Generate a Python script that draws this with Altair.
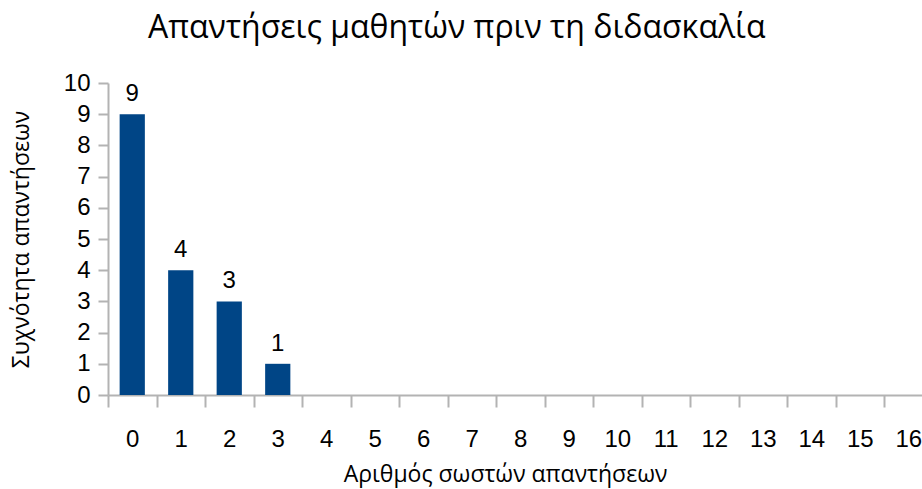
import altair as alt
import pandas as pd

# Number of correct answers (0..16) and how many students gave each
correct_answers = list(range(17))
frequency = [9, 4, 3, 1] + [None] * 13

df = pd.DataFrame({"answers": correct_answers, "freq": frequency})

BLUE = "#004586"
GREY = "#b3b3b3"
NUM_FONT = "Liberation Sans"
TXT_FONT = "Open Sans"

x_enc = alt.X(
    "answers:O",
    sort=correct_answers,
    title="Αριθμός σωστών απαντήσεων",
    scale=alt.Scale(range=[0, 824.5], paddingInner=0, paddingOuter=0),
    axis=alt.Axis(
        labelAngle=0,
        tickBand="extent",
        tickSize=12,
        tickColor=GREY,
        tickWidth=2,
        domainColor=GREY,
        domainWidth=2,
        labelFont=NUM_FONT,
        labelFontSize=24,
        labelColor="black",
        labelPadding=20,
        titleFont=TXT_FONT,
        titleFontSize=23,
        titleFontWeight="normal",
        titleColor="black",
        titlePadding=12,
        titleX=397,
    ),
)

y_enc = alt.Y(
    "freq:Q",
    title="Συχνότητα απαντήσεων",
    scale=alt.Scale(domain=[0, 10], nice=False),
    axis=alt.Axis(
        values=list(range(11)),
        labelOverlap=False,
        grid=False,
        tickSize=10,
        tickColor=GREY,
        tickWidth=2,
        domainColor=GREY,
        domainWidth=2,
        labelFont=NUM_FONT,
        labelFontSize=24,
        labelColor="black",
        labelPadding=8,
        titleFont=TXT_FONT,
        titleFontSize=23,
        titleFontWeight="normal",
        titleColor="black",
        titlePadding=30,
    ),
)

base = alt.Chart(df).encode(x=x_enc, y=y_enc)

bars = base.mark_bar(color=BLUE, width=alt.RelativeBandSize(0.52))

labels = (
    base.transform_filter("datum.freq != null")
    .mark_text(font=NUM_FONT, fontSize=24, color="black", baseline="bottom", dy=-8)
    .encode(text="freq:Q")
)

chart = (
    alt.layer(bars, labels)
    .properties(
        width=814,
        height=312,
        background="white",
        autosize=alt.AutoSizeParams(type="none"),
        padding={"left": 108, "top": 83, "right": 0, "bottom": 94},
        title=alt.TitleParams(
            "Απαντήσεις μαθητών πριν τη διδασκαλία",
            font=TXT_FONT,
            fontSize=32,
            fontWeight="normal",
            color="black",
            anchor="start",
            frame="group",
            dx=40,
            offset=26,
        ),
    )
    .configure_axis(grid=False)
    .configure_view(stroke="transparent", strokeWidth=0)
)

chart.save("out.html", embed_options={"renderer": "svg", "actions": False})
